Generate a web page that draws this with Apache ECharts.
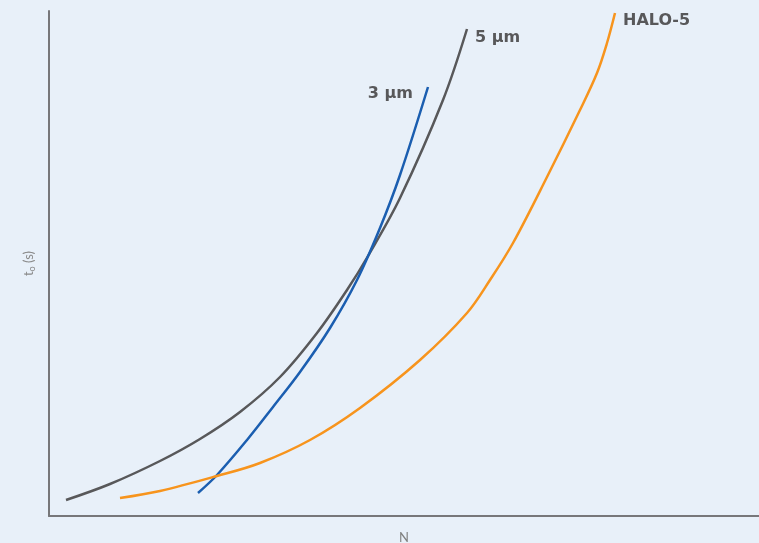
<!DOCTYPE html>
<html><head><meta charset="utf-8">
<script src="https://cdn.jsdelivr.net/npm/echarts@6/dist/echarts.min.js"></script>
<style>html,body{margin:0;padding:0;background:#e8f0f9;overflow:hidden;}#c{width:759px;height:543px;}</style>
</head><body><div id="c"></div>
<script>
// values in chart units (x: N, y: t0)
const gray5um = [[17,16],[61,32],[111,55],[151,77],[191,104],[231,139],[268,183],[298,226],[319,260],[351,318],[394,416],[418,487]];
const blue3um = [[149,23],[168,41],[198,76],[224,109],[251,144],[281,188],[308,236],[331,288],[351,341],[379,429]];
const orangeHalo = [[71,18],[111,25],[168,40],[211,53],[261,76],[311,108],[371,156],[418,203],[441,236],[464,273],[498,339],[531,406],[548,443],[558,473],[566,503]];
const seriesNames = ['5 µm','3 µm','HALO-5'];

const lbl = (name, extra) => Object.assign({show:true, formatter:name, color:'#58585a', fontWeight:'bold', fontSize:16, fontFamily:'"DejaVu Sans", sans-serif'}, extra);

const chart = echarts.init(document.getElementById('c'));
chart.setOption({
  backgroundColor:'#e8f0f9',
  animation:false,
  grid:{left:49,right:0,top:11,bottom:27,outerBoundsMode:'none',containLabel:false},
  xAxis:{type:'value',min:0,max:710,name:'N',nameLocation:'middle',nameGap:15,
    nameTextStyle:{color:'#808080',fontSize:13,fontFamily:'Lato, sans-serif'},
    axisLine:{show:true,lineStyle:{color:'#77777a',width:2}},axisTick:{show:false},axisLabel:{show:false},splitLine:{show:false}},
  yAxis:{type:'value',min:0,max:505,name:'{a|t}{b|o}{a| (s)}',nameLocation:'middle',nameGap:12,
    nameTextStyle:{color:'#8a8a8a',fontSize:13,fontFamily:'Lato, sans-serif',
      rich:{a:{fontSize:13,color:'#8a8a8a'},b:{fontSize:9,color:'#8a8a8a',padding:[7,0,0,0]}}},
    axisLine:{show:true,lineStyle:{color:'#77777a',width:2}},axisTick:{show:false},axisLabel:{show:false},splitLine:{show:false}},
  series:[
    {name:seriesNames[0],type:'line',smooth:0.35,showSymbol:false,symbol:'none',lineStyle:{color:'#58585a',width:2.5},
      endLabel:lbl(seriesNames[0],{distance:8,offset:[0,9]}),data:gray5um},
    {name:seriesNames[1],type:'line',smooth:0.35,showSymbol:false,symbol:'none',lineStyle:{color:'#1b5eb0',width:2.5},
      endLabel:lbl(seriesNames[1],{distance:8,align:'right',offset:[-23,7]}),data:blue3um},
    {name:seriesNames[2],type:'line',smooth:0.35,showSymbol:false,symbol:'none',lineStyle:{color:'#f7941d',width:2.5},
      endLabel:lbl(seriesNames[2],{distance:8,offset:[0,8]}),data:orangeHalo}
  ]
});
</script></body></html>
